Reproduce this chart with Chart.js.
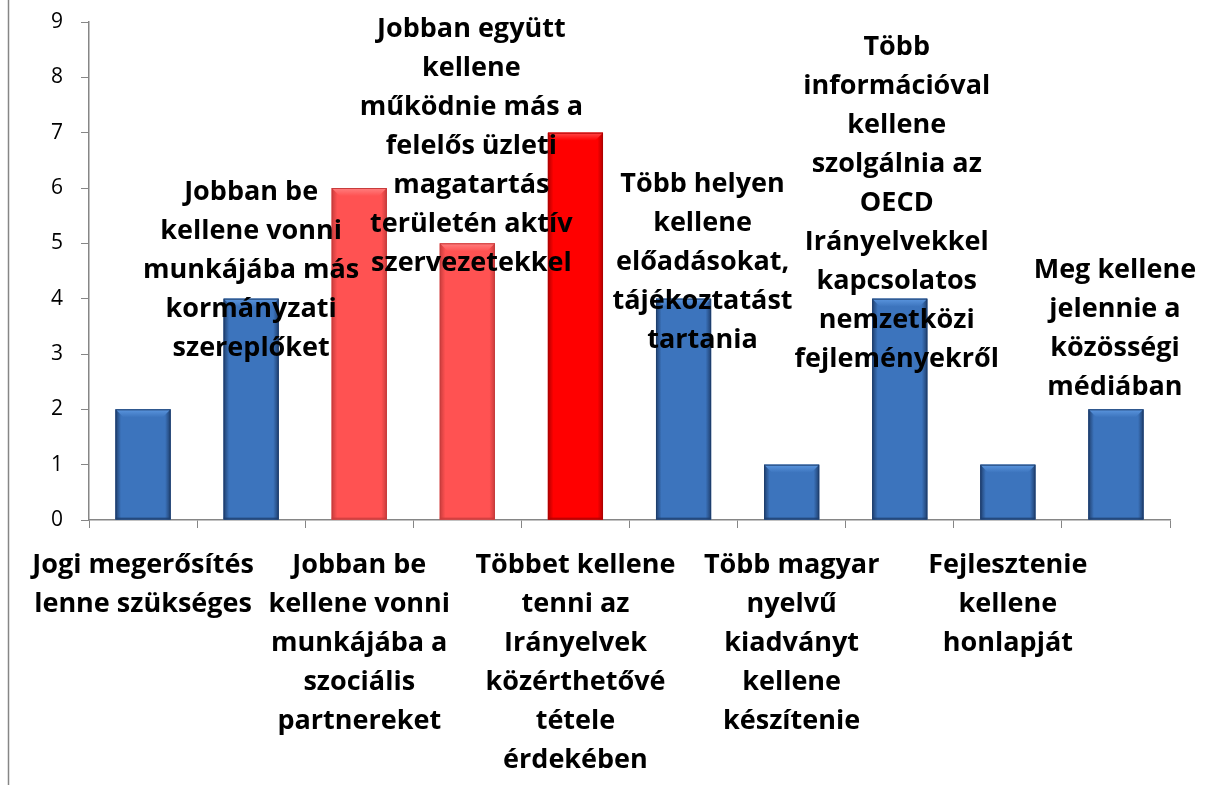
<!DOCTYPE html>
<html>
<head>
<meta charset="utf-8">
<script src="https://cdn.jsdelivr.net/npm/chart.js@4"></script>
<style>
  body { margin: 0; background: #fff; }
  #wrap { width: 1215px; height: 785px; position: relative; }
</style>
</head>
<body>
<div id="wrap"><canvas id="chart"></canvas></div>
<script>
// category labels (line breaks as in the original)
const categories = [
  ["Jogi megerősítés", "lenne szükséges"],
  ["Jobban be", "kellene vonni", "munkájába más", "kormányzati", "szereplőket"],
  ["Jobban be", "kellene vonni", "munkájába a", "szociális", "partnereket"],
  ["Jobban együtt", "kellene", "működnie más a", "felelős üzleti", "magatartás", "területén aktív", "szervezetekkel"],
  ["Többet kellene", "tenni az", "Irányelvek", "közérthetővé", "tétele", "érdekében"],
  ["Több helyen", "kellene", "előadásokat,", "tájékoztatást", "tartania"],
  ["Több magyar", "nyelvű", "kiadványt", "kellene", "készítenie"],
  ["Több", "információval", "kellene", "szolgálnia az", "OECD", "Irányelvekkel", "kapcsolatos", "nemzetközi", "fejleményekről"],
  ["Fejlesztenie", "kellene", "honlapját"],
  ["Meg kellene", "jelennie a", "közösségi", "médiában"]
];
const values = [2, 4, 6, 5, 7, 4, 1, 4, 1, 2];
const yTicks = [0, 1, 2, 3, 4, 5, 6, 7, 8, 9];

// bar palettes: [main, light, dark]
const BLUE = ["#3c74bd", "#5b96df", "#1f3f6e"];
const PINK = ["#ff5252", "#ff8080", "#c83c3c"];
const RED = ["#ff0000", "#ff4a4a", "#b00000"];
const palette = [BLUE, BLUE, PINK, PINK, RED, BLUE, BLUE, BLUE, BLUE, BLUE];

// odd categories are written inside the plot, first line anchored at a value level
const insideLabels = { 1: { y: 5.93, dx: 0 }, 3: { y: 8.86, dx: 4 }, 5: { y: 6.07, dx: 19 }, 7: { y: 8.55, dx: -3 }, 9: { y: 4.52, dx: -1 } };

const FONT = "'Open Sans', Lato, sans-serif";
const GRAY = "#868686";

const bevelBars = {
  id: "bevelBars",
  afterDatasetsDraw(chart) {
    const ctx = chart.ctx;
    const meta = chart.getDatasetMeta(0);
    meta.data.forEach((bar, i) => {
      const [main, light, dark] = palette[i];
      const l = bar.x - bar.width / 2, r = bar.x + bar.width / 2;
      const t = bar.y, b = bar.base;
      const bev = Math.min(8, (b - t) / 3);
      ctx.save();
      const g = ctx.createLinearGradient(l, 0, r, 0);
      g.addColorStop(0, dark);
      g.addColorStop(0.1, main);
      g.addColorStop(0.9, main);
      g.addColorStop(1, dark);
      ctx.fillStyle = g;
      ctx.fillRect(l, t, r - l, b - t);
      // top bevel
      const gt = ctx.createLinearGradient(0, t, 0, t + bev);
      gt.addColorStop(0, light);
      gt.addColorStop(1, main);
      ctx.fillStyle = gt;
      ctx.beginPath();
      ctx.moveTo(l, t); ctx.lineTo(r, t); ctx.lineTo(r - bev, t + bev); ctx.lineTo(l + bev, t + bev);
      ctx.closePath(); ctx.fill();
      // bottom shade
      ctx.fillStyle = dark;
      ctx.globalAlpha = 0.6;
      ctx.fillRect(l, b - 2, r - l, 2);
      ctx.globalAlpha = 1;
      ctx.strokeStyle = dark;
      ctx.lineWidth = 1;
      ctx.strokeRect(l + 0.5, t + 0.5, r - l - 1, b - t - 1);
      ctx.restore();
    });
  },
  afterDraw(chart) {
    const ctx = chart.ctx;
    const meta = chart.getDatasetMeta(0);
    const ys = chart.scales.y;
    ctx.save();
    // frame line on the left
    ctx.strokeStyle = GRAY;
    ctx.lineWidth = 1.5;
    ctx.beginPath();
    ctx.moveTo(8.5, 0); ctx.lineTo(8.5, chart.height);
    ctx.stroke();
    // labels written above the bars
    ctx.fillStyle = "#000";
    ctx.font = "bold 27px " + FONT;
    ctx.textAlign = "center";
    ctx.textBaseline = "middle";
    Object.keys(insideLabels).forEach((k) => {
      const i = +k, pos = insideLabels[k];
      const x = meta.data[i].x + pos.dx;
      const y0 = ys.getPixelForValue(pos.y);
      categories[i].forEach((line, j) => ctx.fillText(line, x, y0 + j * 39));
    });
    ctx.restore();
  }
};

new Chart(document.getElementById("chart"), {
  type: "bar",
  data: {
    labels: categories,
    datasets: [{
      data: values,
      backgroundColor: palette.map((p) => p[0]),
      categoryPercentage: 1,
      barPercentage: 0.51
    }]
  },
  options: {
    responsive: true,
    maintainAspectRatio: false,
    animation: false,
    layout: { padding: { top: 22, right: 45, left: 51, bottom: 0 } },
    plugins: { legend: { display: false }, tooltip: { enabled: false } },
    scales: {
      x: {
        grid: { offset: true, drawOnChartArea: false, color: GRAY, tickLength: 8 },
        border: { color: GRAY, width: 1.5 },
        afterFit: (s) => { s.height = 265; },
        ticks: {
          autoSkip: false,
          maxRotation: 0,
          padding: 18,
          color: "#000",
          font: { family: FONT, size: 27, weight: "bold", lineHeight: 1.444 },
          callback: (v, i) => (i % 2 === 0 ? categories[i] : "")
        }
      },
      y: {
        min: 0,
        max: 9,
        afterFit: (s) => { s.width = 38; },
        afterBuildTicks: (s) => { s.ticks = yTicks.map((v) => ({ value: v })); },
        grid: { drawOnChartArea: false, color: GRAY, tickLength: 8 },
        border: { color: GRAY, width: 1.5 },
        ticks: {
          padding: 2,
          crossAlign: "far",
          color: "#000",
          font: { family: FONT, size: 21 }
        }
      }
    }
  },
  plugins: [bevelBars]
});
</script>
</body>
</html>
